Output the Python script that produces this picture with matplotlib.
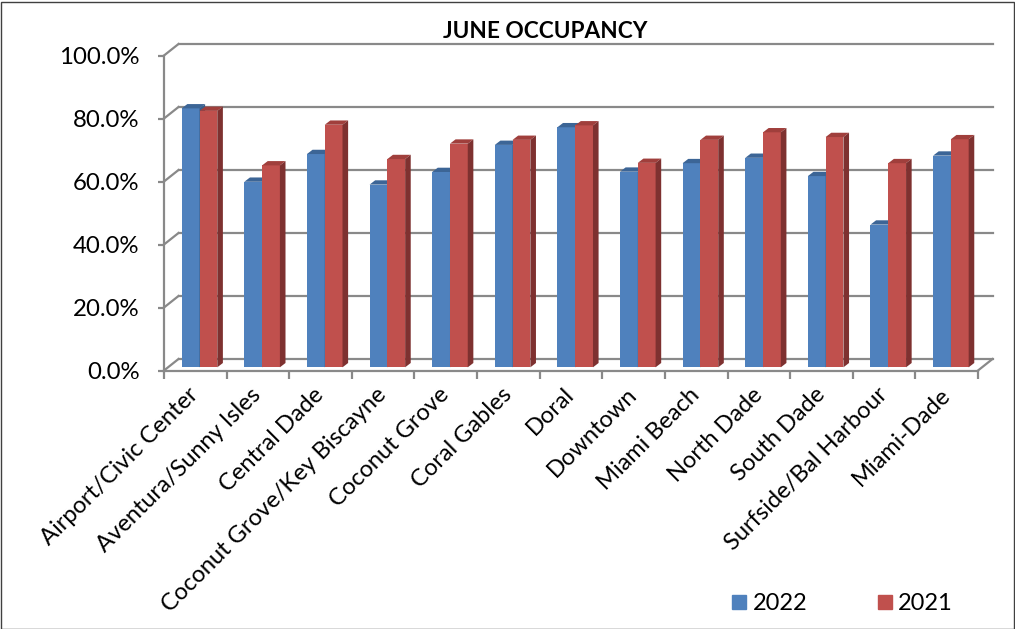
import matplotlib
matplotlib.use("Agg")
import matplotlib.pyplot as plt
from matplotlib.patches import Polygon, Rectangle
from matplotlib.lines import Line2D

areas = ["Airport/Civic Center", "Aventura/Sunny Isles", "Central Dade",
         "Coconut Grove/Key Biscayne", "Coconut Grove", "Coral Gables", "Doral",
         "Downtown", "Miami Beach", "North Dade", "South Dade",
         "Surfside/Bal Harbour", "Miami-Dade"]
occ_2022 = [82.2, 58.9, 67.7, 58.0, 62.0, 70.6, 76.2, 62.1, 64.8, 66.5, 60.7, 45.3, 67.2]
occ_2021 = [81.4, 64.1, 77.0, 66.1, 71.0, 72.2, 76.8, 64.9, 72.2, 74.6, 73.1, 64.8, 72.4]
yticks = [0, 20, 40, 60, 80, 100]
ylabels = ["0.0%", "20.0%", "40.0%", "60.0%", "80.0%", "100.0%"]

plt.rcParams['font.family'] = ['Lato', 'DejaVu Sans']

W, H = 1015, 629
fig = plt.figure(figsize=(W / 100, H / 100), dpi=100)
# front plane of the 3d box, in pixels
left, right, bottom, top = 164, 978, 370.5, 55.5
ax = fig.add_axes([left / W, 1 - bottom / H, (right - left) / W, (bottom - top) / H])
n = len(areas)
ax.set_xlim(0, n)
ax.set_ylim(0, 100)

# pixel -> data unit helpers
px = n / (right - left)
py = 100 / (bottom - top)

grid_c = "#898989"
wall_dx, wall_dy = 14.5 * px, 11.5 * py

# back wall gridlines + left wall diagonals
for v in yticks:
    ax.plot([wall_dx, n + wall_dx], [v + wall_dy, v + wall_dy], color=grid_c, lw=1.6,
            clip_on=False, zorder=1)
    ax.plot([0, wall_dx], [v, v + wall_dy], color=grid_c, lw=1.6, clip_on=False, zorder=1)
ax.plot([n, n + wall_dx], [0, wall_dy], color=grid_c, lw=1.6, clip_on=False, zorder=1)

# bars with fake depth
bar_w = 0.284
off_x = 0.283
lift = 3.2 * py
ddx, ddy = 5.6 * px, 4.3 * py
series = [(occ_2022, "#4F81BD", "#3C6596", "#385D8A", 0),
          (occ_2021, "#C0504D", "#A03F3C", "#7E3130", 1)]
z = 3
for vals, front, topc, sidec, k in series:
    xs = [i + off_x + k * bar_w for i in range(n)]
    ax.bar(xs, vals, width=bar_w, bottom=lift, align='edge', color=front,
           zorder=z, clip_on=False)
    for x0, v in zip(xs, vals):
        t = v + lift
        x1 = x0 + bar_w
        ax.add_patch(Polygon([(x0, t), (x1, t), (x1 + ddx, t + ddy), (x0 + ddx, t + ddy)],
                             closed=True, color=topc, zorder=z, clip_on=False, lw=0))
        ax.add_patch(Polygon([(x1, lift), (x1, t), (x1 + ddx, t + ddy), (x1 + ddx, lift + ddy)],
                             closed=True, color=sidec, zorder=z, clip_on=False, lw=0))
    z += 1

# axes styling
for s in ["top", "right"]:
    ax.spines[s].set_visible(False)
for s in ["left", "bottom"]:
    ax.spines[s].set_color(grid_c)
    ax.spines[s].set_linewidth(1.6)
ax.set_yticks(yticks, ylabels)
ax.tick_params(axis='y', length=4.5, width=1.6, color=grid_c, pad=13, labelsize=17.3)
ax.set_xticks(range(n + 1), [""] * (n + 1))
ax.tick_params(axis='x', which='major', length=5.5, width=1.6, color=grid_c)
ax.set_xticks([i + 0.5 for i in range(n)], areas, minor=True)
ax.tick_params(axis='x', which='minor', length=0, pad=15, labelsize=17)
for lab in ax.get_xticklabels(minor=True):
    lab.set_rotation(45)
    lab.set_ha('right')
    lab.set_va('center')
    lab.set_rotation_mode('anchor')

fig.text(545 / W, 1 - 31 / H, "JUNE OCCUPANCY", ha='center', va='center',
         fontsize=16.3, fontweight='bold')

handles = [Line2D([], [], ls='', marker='s', markersize=10, color=c)
           for c in ["#4F81BD", "#C0504D"]]
fig.legend(handles, ["2022", "2021"], loc='center', bbox_to_anchor=(841.5 / W, 1 - 604 / H),
           ncol=2, frameon=False, fontsize=17, handlelength=0.75, handletextpad=0.2,
           columnspacing=2.9)

fig.add_artist(Rectangle((0.5 / W, 0.5 / H), 1 - 2 / W, 1 - 2 / H, transform=fig.transFigure,
                         fill=False, edgecolor="#404040", lw=1))

fig.savefig("out.png", dpi=100)
